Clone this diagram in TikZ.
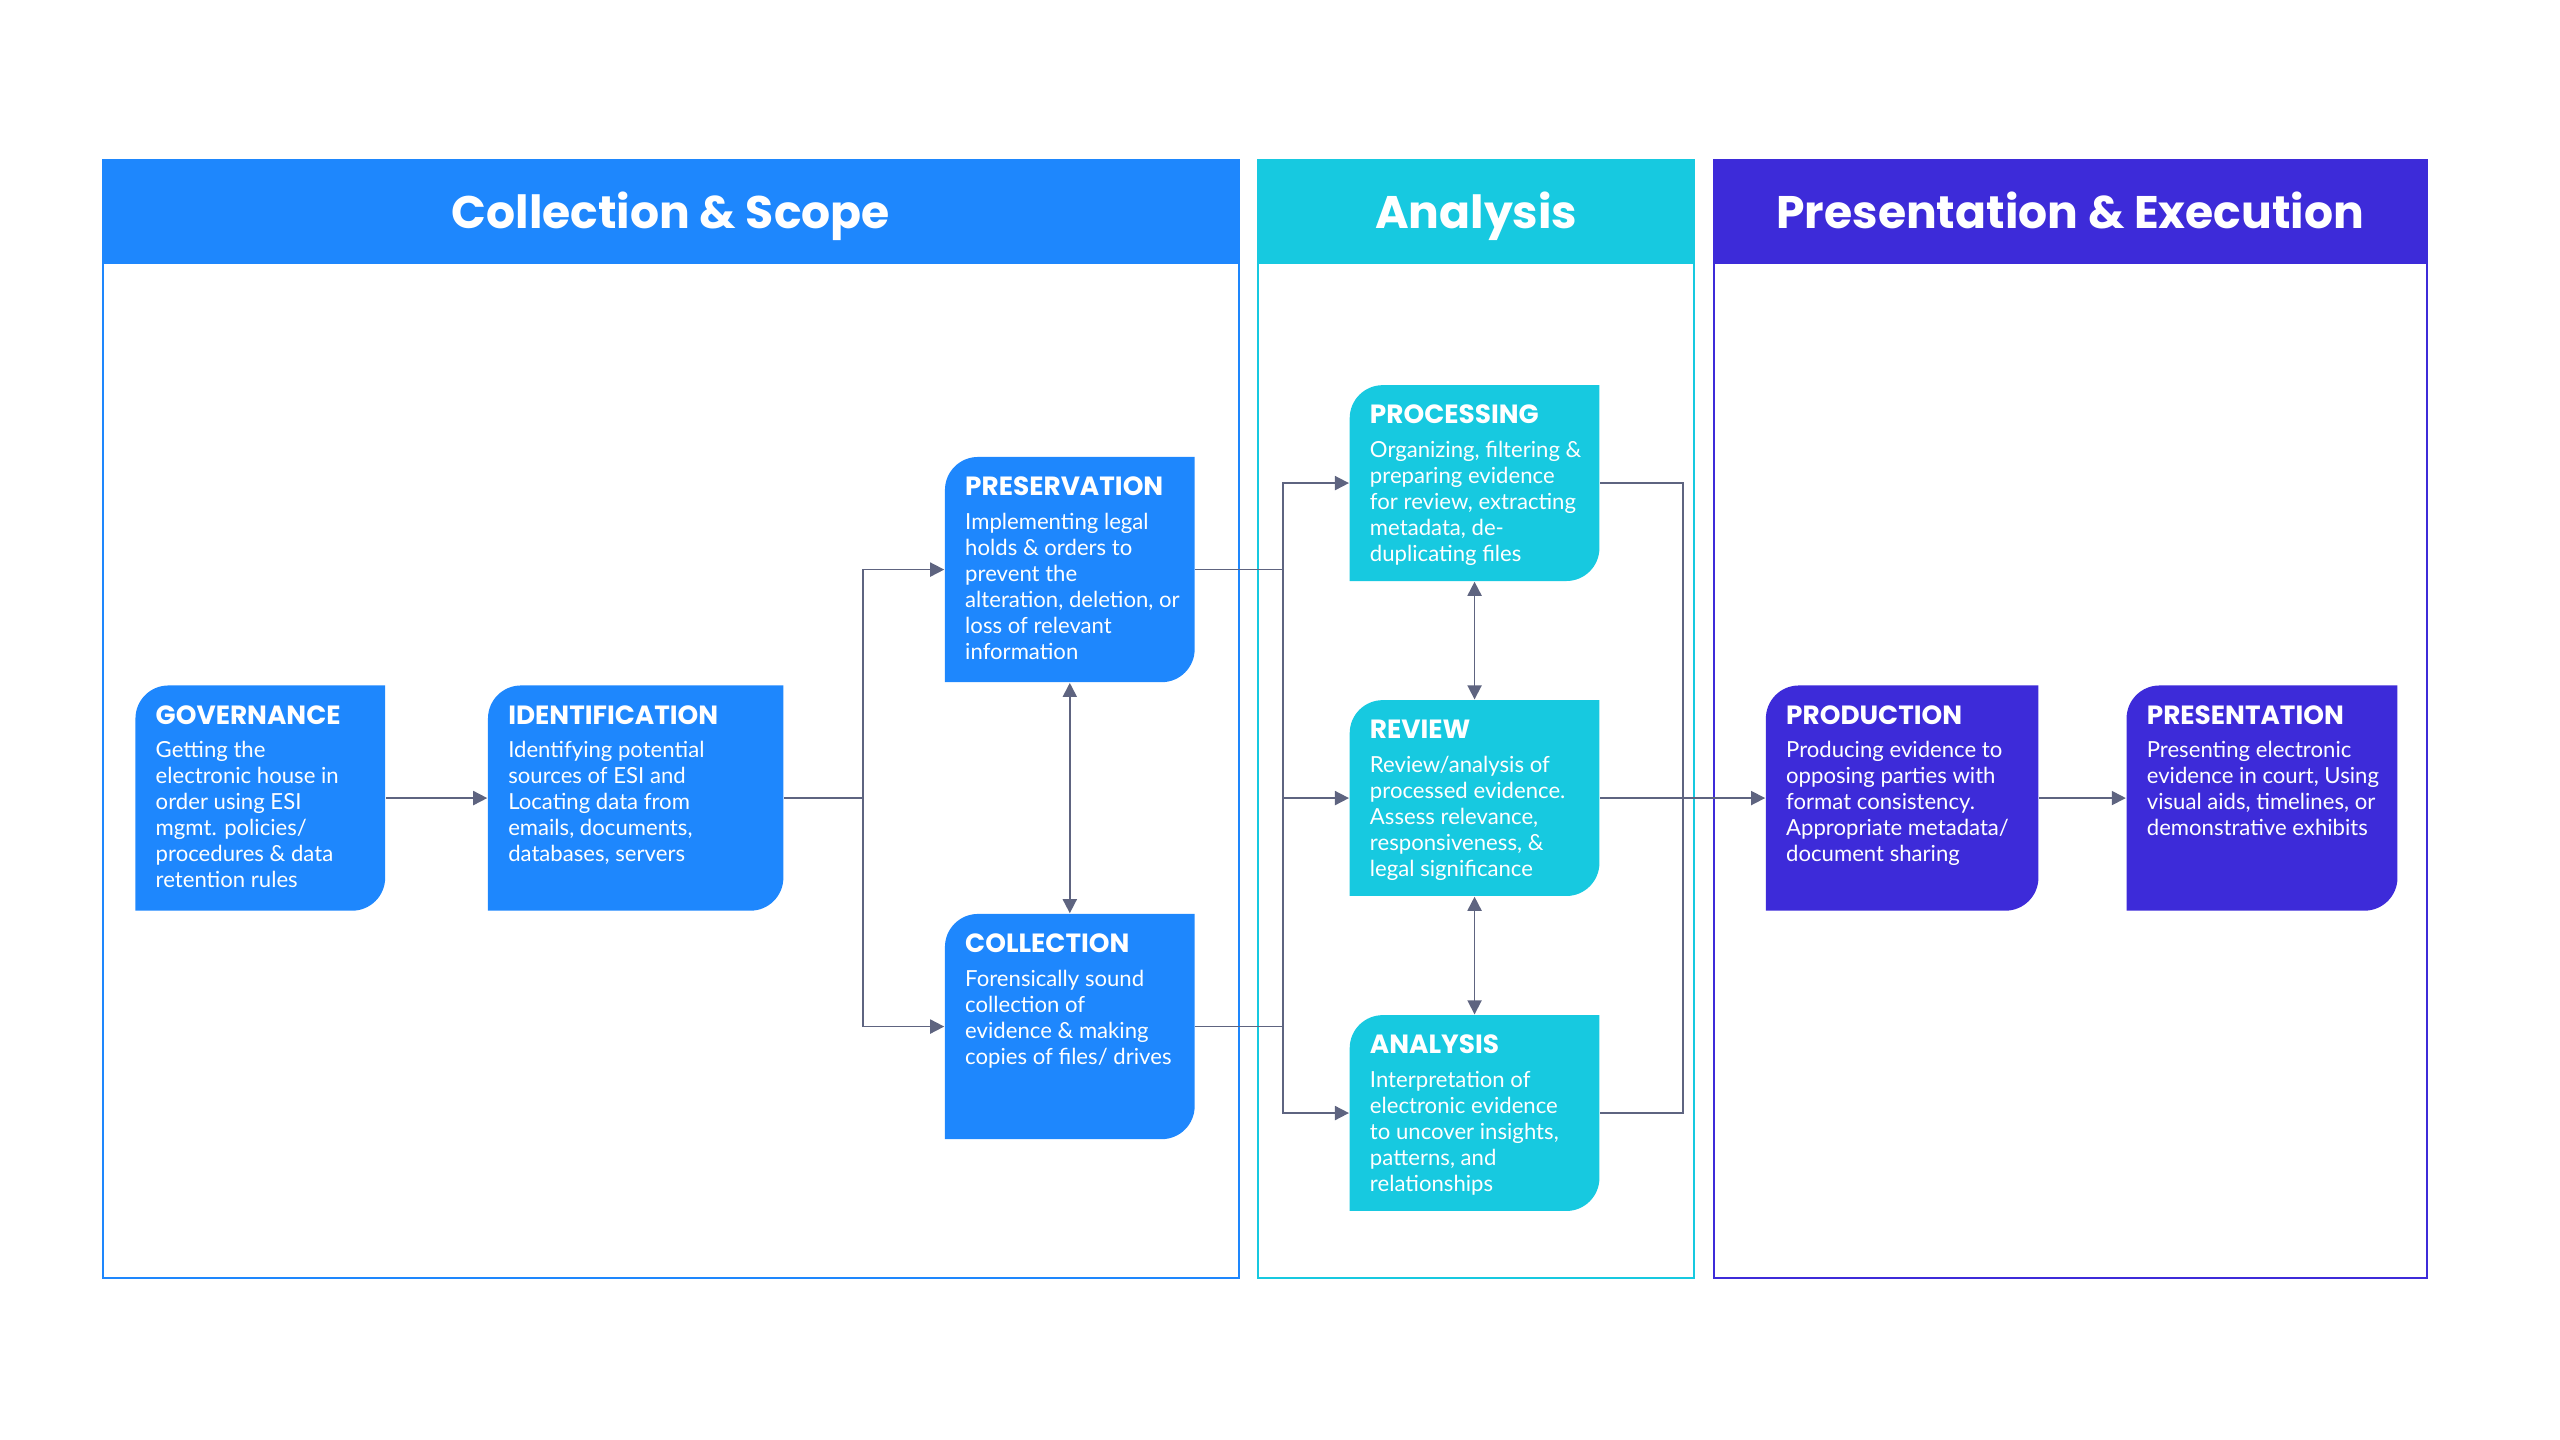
\documentclass[tikz,border=0pt]{standalone}
\usepackage{fontspec}
\setmainfont{Lato}
\newfontfamily\headfont{Poppins}
\usetikzlibrary{arrows.meta}
\definecolor{ScopeBlue}{HTML}{1E87FD}
\definecolor{AnalysisTeal}{HTML}{17C9E0}
\definecolor{ExecPurple}{HTML}{3D2BD9}
\definecolor{LinkGray}{HTML}{5E6480}

% one stage box: name, x1, y1, x2, y2, colour, title, body
\newcommand{\stagebox}[8]{%
  \fill[#6] (#2,#5) [rounded corners=0.33cm] -- (#2,#3) [sharp corners] -- (#4,#3)
    [rounded corners=0.33cm] -- (#4,#5) [sharp corners] -- cycle;
  \node[name=#1, inner sep=0, minimum width={(#4-#2)*0.01632cm},
    minimum height={(#5-#3)*0.01632cm}] at ({(#2+#4)/2},{(#3+#5)/2}) {};
  \node[stagetitle, anchor=west] at (#2+12,#3+18) {#7};
  \node[stagebody, anchor=north west] at (#2+12,#3+34) {#8};
}

\begin{document}
\begin{tikzpicture}[x=0.01632cm, y=-0.01632cm,
    stagetitle/.style={text=white, font=\headfont\bfseries\fontsize{7.5}{9}\selectfont, inner sep=0},
    stagebody/.style={text=white, align=left, inner sep=0,
      font=\fontsize{6.3}{7.4}\selectfont},
    paneltitle/.style={text=white, font=\headfont\bfseries\fontsize{13}{15}\selectfont, anchor=base},
    link/.style={draw=LinkGray, line width=0.5pt},
    arrow/.style={link, -{Triangle[length=4pt, width=4pt]}},
    twoway/.style={link, {Triangle[length=4pt, width=4pt]}-{Triangle[length=4pt, width=4pt]}}]
    \path[use as bounding box] (0,0) rectangle (1568.6,882.3);

    % panels
    \draw[ScopeBlue, line width=0.6pt] (63,98) rectangle (759,783);
    \fill[ScopeBlue] (63,98) rectangle (759,162);
    \node[paneltitle] (scopehead) at (411,140) {Collection \& Scope};
    \draw[AnalysisTeal, line width=0.6pt] (771,98) rectangle (1038,783);
    \fill[AnalysisTeal] (771,98) rectangle (1038,162);
    \node[paneltitle] (analysishead) at (904.5,140) {Analysis};
    \draw[ExecPurple, line width=0.6pt] (1050,98) rectangle (1487,783);
    \fill[ExecPurple] (1050,98) rectangle (1487,162);
    \node[paneltitle] (exechead) at (1268.5,140) {Presentation \& Execution};

    % stages
    \stagebox{gov}{83}{420}{236}{558}{ScopeBlue}{GOVERNANCE}
      {Getting the\\electronic house in\\order using ESI\\mgmt. policies/\\procedures \& data\\retention rules}
    \stagebox{ident}{299}{420}{480}{558}{ScopeBlue}{IDENTIFICATION}
      {Identifying potential\\sources of ESI and\\Locating data from\\emails, documents,\\databases, servers}
    \stagebox{preserve}{579}{280}{732}{418}{ScopeBlue}{PRESERVATION}
      {Implementing legal\\holds \& orders to\\prevent the\\alteration, deletion, or\\loss of relevant\\information}
    \stagebox{collect}{579}{560}{732}{698}{ScopeBlue}{COLLECTION}
      {Forensically sound\\collection of\\evidence \& making\\copies of files/ drives}
    \stagebox{process}{827}{236}{980}{356}{AnalysisTeal}{PROCESSING}
      {Organizing, filtering \&\\preparing  evidence\\for review, extracting\\metadata, de-\\duplicating files}
    \stagebox{review}{827}{429}{980}{549}{AnalysisTeal}{REVIEW}
      {Review/analysis of\\processed  evidence.\\Assess relevance,\\responsiveness, \&\\legal significance}
    \stagebox{analyse}{827}{622}{980}{742}{AnalysisTeal}{ANALYSIS}
      {Interpretation of\\electronic evidence\\to uncover insights,\\patterns, and\\relationships}
    \stagebox{produce}{1082}{420}{1249}{558}{ExecPurple}{PRODUCTION}
      {Producing evidence to\\opposing parties with\\format consistency.\\Appropriate metadata/\\document sharing}
    \stagebox{present}{1303}{420}{1469}{558}{ExecPurple}{PRESENTATION}
      {Presenting electronic\\evidence in court, Using\\visual aids, timelines, or\\demonstrative exhibits}

    % connectors
    \coordinate (splitL) at (529,489);
    \coordinate (splitM) at (786,489);
    \coordinate (joinR) at (1031,489);
    \draw[arrow] (gov) -- (ident);
    \draw[link] (ident) -- (splitL);
    \draw[arrow] (splitL) |- (preserve.west);
    \draw[arrow] (splitL) |- (collect.west);
    \draw[twoway] (preserve) -- (collect);
    \draw[link] (preserve.east) -| (splitM);
    \draw[link] (collect.east) -| (splitM);
    \draw[arrow] (786,349) |- (process.west);
    \draw[arrow] (splitM) -- (review);
    \draw[arrow] (786,629) |- (analyse.west);
    \draw[twoway] (process) -- (review);
    \draw[twoway] (review) -- (analyse);
    \draw[link] (process.east) -| (joinR) |- (analyse.east);
    \draw[arrow] (review) -- (produce);
    \draw[arrow] (produce) -- (present);
\end{tikzpicture}
\end{document}
